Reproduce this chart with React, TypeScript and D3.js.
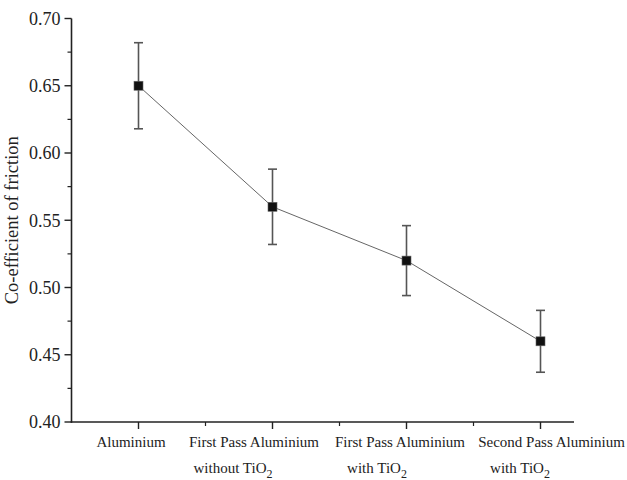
import React from "react";
import * as d3 from "d3";

const categories: string[][] = [
  ["Aluminium"],
  ["First Pass Aluminium", "without TiO|2"],
  ["First Pass Aluminium", "with TiO|2"],
  ["Second Pass Aluminium", "with TiO|2"],
];
const values: number[] = [0.65, 0.56, 0.52, 0.46];
const errors: number[] = [0.032, 0.028, 0.026, 0.023];
const yTicks: number[] = [0.4, 0.45, 0.5, 0.55, 0.6, 0.65, 0.7];
const yMinorTicks: number[] = [0.425, 0.475, 0.525, 0.575, 0.625, 0.675];
const xMinorTicks: number[] = [1.5, 2.5, 3.5];

// layout: horizontal label shifts (px) relative to each category tick, per line
const labelShift: number[][] = [
  [-7.5],
  [-18.5, -39.5],
  [-6.5, -29.5],
  [11, -20.5],
];

const W = 627;
const H = 480;
const FONT = "'Liberation Serif', 'Times New Roman', serif";
const TXT = "#222";

function Label({ text, x, y, size }: { text: string; x: number; y: number; size: number }) {
  const [main, sub] = text.split("|");
  return (
    <text x={x} y={y} textAnchor="middle" fontFamily={FONT} fontSize={size} fill={TXT}>
      {main}
      {sub !== undefined && (
        <tspan dy={5} fontSize={size * 0.8}>
          {sub}
        </tspan>
      )}
    </text>
  );
}

export default function App() {
  const x = d3.scaleLinear().domain([0.5, 4.25]).range([71.5, 574]);
  const y = d3.scaleLinear().domain([0.4, 0.7]).range([422, 18.5]);
  const line = d3
    .line<number>()
    .x((_, i) => x(i + 1))
    .y((d) => y(d));

  return (
    <svg
      width={W}
      height={H}
      style={{ position: "absolute", left: 0, top: 0, background: "#fff" }}
    >
      {/* axes */}
      <line x1={x(0.5)} x2={x(0.5)} y1={y(0.7)} y2={y(0.4) + 0.8} stroke="#222" strokeWidth={1.6} />
      <line x1={x(0.5) - 0.8} x2={x(4.25)} y1={y(0.4)} y2={y(0.4)} stroke="#222" strokeWidth={1.6} />
      {yTicks.map((t) => (
        <g key={t}>
          <line x1={x(0.5) - 7} x2={x(0.5)} y1={y(t)} y2={y(t)} stroke="#222" strokeWidth={1.4} />
          <text
            x={x(0.5) - 11}
            y={y(t)}
            dy="0.35em"
            textAnchor="end"
            fontFamily={FONT}
            fontSize={18}
            fill={TXT}
          >
            {d3.format(".2f")(t)}
          </text>
        </g>
      ))}
      {yMinorTicks.map((t) => (
        <line key={t} x1={x(0.5) - 4} x2={x(0.5)} y1={y(t)} y2={y(t)} stroke="#222" strokeWidth={1.2} />
      ))}
      {values.map((_, i) => (
        <line key={i} x1={x(i + 1)} x2={x(i + 1)} y1={y(0.4)} y2={y(0.4) + 7} stroke="#222" strokeWidth={1.4} />
      ))}
      {xMinorTicks.map((t) => (
        <line key={t} x1={x(t)} x2={x(t)} y1={y(0.4)} y2={y(0.4) + 4} stroke="#222" strokeWidth={1.2} />
      ))}
      {categories.map((lines, i) =>
        lines.map((l, j) => (
          <Label
            key={`${i}-${j}`}
            text={l}
            x={x(i + 1) + labelShift[i][j]}
            y={447 + j * 26}
            size={15}
          />
        ))
      )}
      <text
        transform={`translate(18, ${y(0.55)}) rotate(-90)`}
        textAnchor="middle"
        fontFamily={FONT}
        fontSize={18.5}
        fill={TXT}
      >
        Co-efficient of friction
      </text>
      {/* connecting line */}
      <path d={line(values) || ""} fill="none" stroke="#666" strokeWidth={1} />
      {/* error bars */}
      {values.map((v, i) => (
        <g key={i} stroke="#555" strokeWidth={1.6}>
          <line x1={x(i + 1)} x2={x(i + 1)} y1={y(v + errors[i])} y2={y(v - errors[i])} />
          <line x1={x(i + 1) - 4.5} x2={x(i + 1) + 4.5} y1={y(v + errors[i])} y2={y(v + errors[i])} />
          <line x1={x(i + 1) - 4.5} x2={x(i + 1) + 4.5} y1={y(v - errors[i])} y2={y(v - errors[i])} />
        </g>
      ))}
      {/* markers */}
      {values.map((v, i) => (
        <rect
          key={i}
          x={x(i + 1) - 4.5}
          y={y(v) - 4.5}
          width={9}
          height={9}
          fill="#111"
          stroke="#666"
          strokeWidth={0.6}
        />
      ))}
    </svg>
  );
}
